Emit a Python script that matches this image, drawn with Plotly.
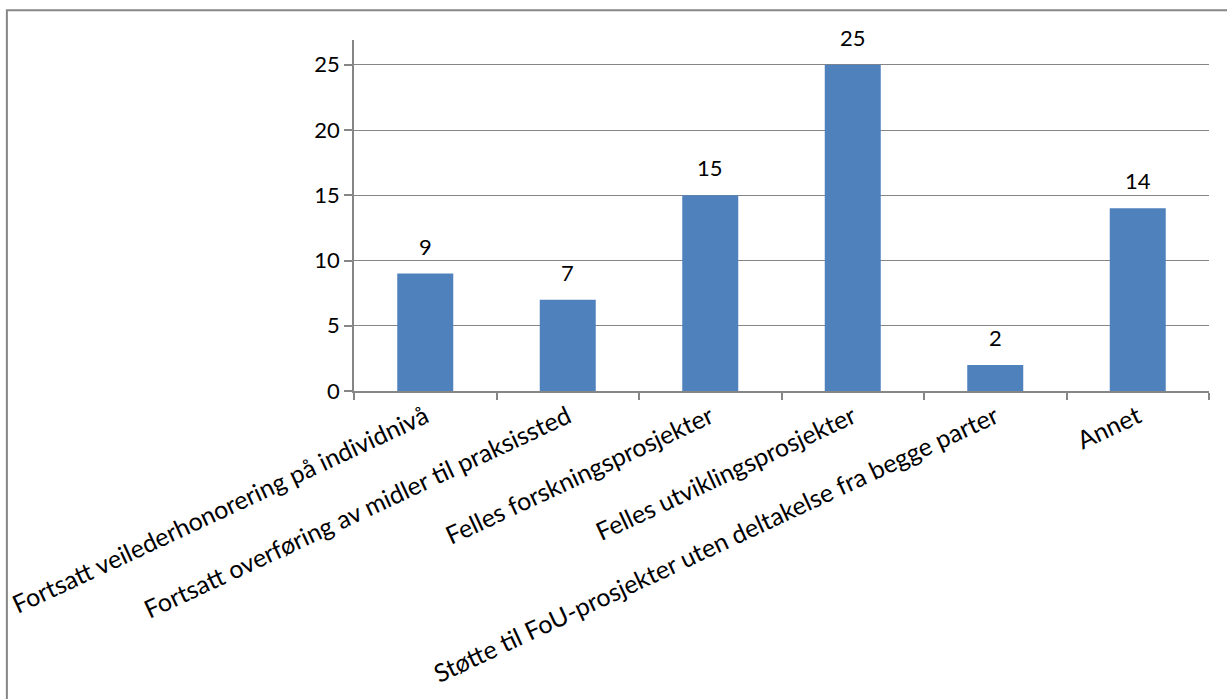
import plotly.graph_objects as go

# Categories and counts
categories = [
    "Fortsatt veilederhonorering på individnivå",
    "Fortsatt overføring av midler til praksissted",
    "Felles forskningsprosjekter",
    "Felles utviklingsprosjekter",
    "Støtte til FoU-prosjekter uten deltakelse fra begge parter",
    "Annet",
]
counts = [9, 7, 15, 25, 2, 14]
y_ticks = [0, 5, 10, 15, 20, 25]

FONT = "Lato"
GRID = "#868686"
BAR = "#4F81BD"

fig = go.Figure(
    go.Bar(
        x=categories,
        y=counts,
        marker=dict(color=BAR, line=dict(width=0)),
        hoverinfo="x+y",
    )
)

# value labels floating above each bar
for cat, val in zip(categories, counts):
    fig.add_annotation(
        x=cat, y=val, text=str(val), showarrow=False,
        yanchor="bottom", yshift=12,
        font=dict(family=FONT, size=22, color="#000000"),
    )

fig.update_layout(
    width=1227,
    height=699,
    margin=dict(l=354, r=18, t=40, b=308, autoexpand=False),
    paper_bgcolor="white",
    plot_bgcolor="white",
    showlegend=False,
    bargap=0.607,
    font=dict(family=FONT, size=21, color="#000000"),
    shapes=[
        # outer chart frame
        dict(
            type="rect", xref="paper", yref="paper",
            x0=-0.406, x1=1.2, y0=-1.2, y1=1.085,
            line=dict(color=GRID, width=2), fillcolor="rgba(0,0,0,0)",
            layer="below",
        )
    ],
)

fig.update_xaxes(
    type="category",
    automargin=False,
    showline=True, linecolor=GRID, linewidth=1.5,
    ticks="outside", ticklen=7, tickcolor=GRID, tickwidth=1.5,
    tickson="boundaries",
    tickangle=-25,
    tickfont=dict(family=FONT, size=25, color="#000000"),
    showgrid=False,
)
fig.update_yaxes(
    range=[0, 26.9],
    tickvals=y_ticks,
    automargin=False,
    showline=True, linecolor=GRID, linewidth=1.5,
    ticks="outside", ticklen=8, tickcolor=GRID, tickwidth=1.5,
    showgrid=True, gridcolor=GRID, gridwidth=1.2,
    tickfont=dict(family=FONT, size=22, color="#000000"),
    zeroline=False,
)

fig.write_html("out.html")
